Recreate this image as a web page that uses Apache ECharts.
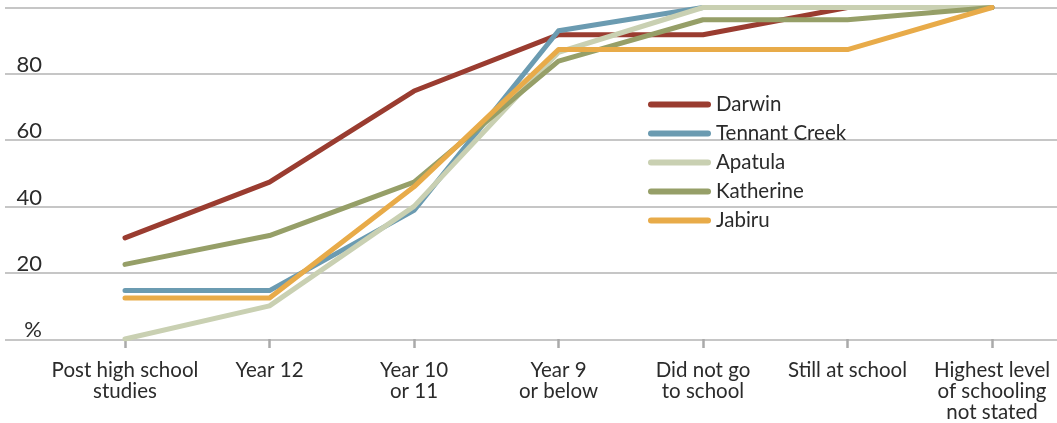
<!DOCTYPE html>
<html><head><meta charset="utf-8">
<script src="https://cdn.jsdelivr.net/npm/echarts@6/dist/echarts.min.js"></script>
<style>html,body{margin:0;padding:0;background:#fff}#c{width:1057px;height:423px}</style>
</head><body><div id="c"></div>
<script>
const categories = ['Post high school\nstudies','Year 12','Year 10\nor 11','Year 9\nor below','Did not go\nto school','Still at school','Highest level\nof schooling\nnot stated'];
const seriesNames = ['Darwin','Tennant Creek','Apatula','Katherine','Jabiru'];
const darwin = [30.5, 47.3, 74.8, 91.8, 91.8, 100, 100];
const tennantCreek = [14.6, 14.6, 38.8, 93, 100, 100, 100];
const apatula = [0, 10, 40, 86.5, 100, 100, 100];
const katherine = [22.5, 31.2, 47.3, 83.8, 96.3, 96.3, 100];
const jabiru = [12.4, 12.4, 45.9, 87.3, 87.3, 87.3, 100];
const yTicks = [0, 20, 40, 60, 80, 100];

const colors = ['#9a3c30','#6b9bb1','#c9d0b2','#969f68','#e8ab49'];
const values = [darwin, tennantCreek, apatula, katherine, jabiru];
const FONT = 'Lato';
const chart = echarts.init(document.getElementById('c'), null, {renderer:'canvas'});
const legendIcon = 'path://M3 0H60A3 3 0 0 1 60 6H3A3 3 0 0 1 3 0Z';
chart.setOption({
  animation: false,
  grid: [
    {left: 5, right: 0, top: 7.5, bottom: 83.7},
    {left: 125, right: 65, top: 7.5, bottom: 83.7}
  ],
  xAxis: [
    {gridIndex: 0, type: 'value', show: false, min: 0, max: 1},
    {gridIndex: 1, type: 'category', data: categories, boundaryGap: false,
     axisLine: {show: false},
     axisTick: {show: true, alignWithLabel: true, length: 9, lineStyle: {color: '#aaaaaa', width: 2.5}},
     axisLabel: {color: '#2b2b2b', fontFamily: FONT, fontSize: 20.5, lineHeight: 21, margin: 21, interval: 0}
    }
  ],
  yAxis: [
    {gridIndex: 0, type: 'value', min: yTicks[0], max: yTicks[yTicks.length-1], interval: 20,
     axisLine: {show: false}, axisTick: {show: false},
     splitLine: {show: true, lineStyle: {color: '#b3b3b3', width: 1.5}},
     axisLabel: {inside: true, margin: 37, align: 'right', verticalAlign: 'bottom', color: '#2b2b2b',
       fontFamily: FONT, fontSize: 22, lineHeight: 18,
       formatter: v => v === 0 ? '%' : (v === 100 ? '' : String(v))}
    },
    {gridIndex: 1, type: 'value', min: 0, max: 100, interval: 20, show: false}
  ],
  legend: {
    orient: 'vertical', left: 643, top: 89, itemWidth: 63, itemHeight: 6, itemGap: 8,
    icon: legendIcon, data: seriesNames,
    textStyle: {color: '#2b2b2b', fontFamily: FONT, fontSize: 20.5, lineHeight: 20}
  },
  series: seriesNames.map((n, i) => ({
    name: n, type: 'line', xAxisIndex: 1, yAxisIndex: 1, data: values[i],
    symbol: 'none', color: colors[i],
    lineStyle: {width: 5, color: colors[i], cap: 'round', join: 'round'}
  }))
});
</script></body></html>
